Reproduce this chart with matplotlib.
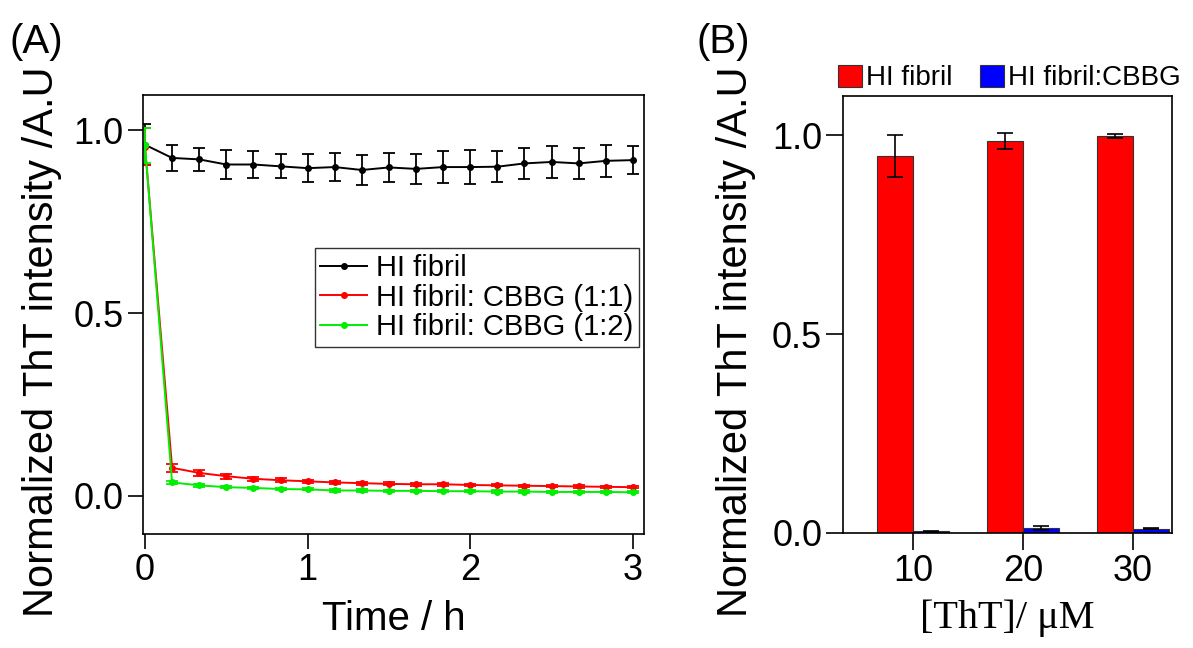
import matplotlib
matplotlib.use("Agg")
import matplotlib.pyplot as plt
import numpy as np

plt.rcParams['font.family'] = ['Liberation Sans', 'DejaVu Sans']

# ---- panel A data: ThT intensity vs time ----
time_h = np.arange(19) / 6.0
hi_fibril = [0.96, 0.924, 0.920, 0.906, 0.906, 0.901, 0.896, 0.899, 0.891, 0.898,
             0.894, 0.899, 0.899, 0.900, 0.909, 0.913, 0.909, 0.916, 0.918]
hi_fibril_err = [0.056, 0.035, 0.031, 0.040, 0.036, 0.033, 0.038, 0.038, 0.042, 0.040,
                 0.040, 0.043, 0.047, 0.042, 0.043, 0.043, 0.043, 0.043, 0.038]
cbbg_11 = [0.955, 0.077, 0.063, 0.054, 0.047, 0.043, 0.040, 0.037, 0.035, 0.033,
           0.032, 0.032, 0.030, 0.029, 0.028, 0.027, 0.026, 0.025, 0.024]
cbbg_11_err = [0.05, 0.011, 0.008, 0.007, 0.006, 0.005, 0.005, 0.004, 0.004, 0.004,
               0.004, 0.004, 0.003, 0.003, 0.003, 0.003, 0.003, 0.003, 0.003]
cbbg_12 = [0.958, 0.037, 0.029, 0.024, 0.022, 0.019, 0.018, 0.015, 0.015, 0.014,
           0.014, 0.013, 0.013, 0.012, 0.012, 0.011, 0.011, 0.011, 0.010]
cbbg_12_err = [0.048, 0.005, 0.004, 0.003, 0.003, 0.003, 0.003, 0.003, 0.003, 0.003,
               0.003, 0.003, 0.003, 0.003, 0.003, 0.003, 0.003, 0.003, 0.003]

# ---- panel B data: bars vs ThT concentration ----
tht_labels = ['10', '20', '30']
bar_fibril = [0.948, 0.986, 0.999]
bar_fibril_err = [0.052, 0.020, 0.005]
bar_cbbg = [0.004, 0.013, 0.011]
bar_cbbg_err = [0.002, 0.005, 0.001]

fig = plt.figure(figsize=(11.93, 6.48), dpi=100)

tick_fs = 26
label_fs = 30

# ================= panel A =================
ax1 = fig.add_axes([0.1199, 0.1759, 0.4199, 0.6775])
series = [
    (hi_fibril, hi_fibril_err, 'black', 'HI fibril'),
    (cbbg_11, cbbg_11_err, '#ff0000', 'HI fibril: CBBG (1:1)'),
    (cbbg_12, cbbg_12_err, '#00ee00', 'HI fibril: CBBG (1:2)'),
]
for vals, errs, col, lab in series:
    ax1.errorbar(time_h, vals, yerr=errs, color=col, fmt='none',
                 elinewidth=1.3, capsize=4, capthick=1.3)
    ax1.plot(time_h, vals, color=col, marker='o', markersize=4,
             linewidth=1.4, label=lab)

ax1.set_xlim(-0.012, 3.068)
ax1.set_ylim(-0.104, 1.096)
ax1.set_xticks([0, 1, 2, 3])
ax1.set_xticklabels(['0', '1', '2', '3'])
ax1.set_yticks([0.0, 0.5, 1.0])
ax1.set_yticklabels(['0.0', '0.5', '1.0'])
ax1.tick_params(direction='out', length=11, width=1.2, labelsize=tick_fs, pad=3)
for sp in ax1.spines.values():
    sp.set_linewidth(1.2)
ax1.set_xlabel('Time / h', fontsize=label_fs - 1, labelpad=8)
ax1.set_ylabel('Normalized ThT intensity /A.U', fontsize=label_fs)
ax1.yaxis.set_label_coords(-0.162, 0.437)

leg1 = ax1.legend(loc='lower right', bbox_to_anchor=(0.99, 0.426), borderaxespad=0,
                  fontsize=21, frameon=True, fancybox=False, edgecolor='black',
                  handlelength=1.6, handletextpad=0.3, labelspacing=0.05,
                  borderpad=0.2)
leg1.get_frame().set_linewidth(1.0)

fig.text(0.008, 0.965, '(A)', fontsize=label_fs - 1, va='top', ha='left')

# ================= panel B =================
ax2 = fig.add_axes([0.7066, 0.1775, 0.2758, 0.6744])
xpos = np.arange(len(tht_labels))
bw = 0.327
ax2.bar(xpos - bw / 2, bar_fibril, width=bw, color='#ff0000', edgecolor='#333333',
        linewidth=0.8, yerr=bar_fibril_err, capsize=6,
        error_kw=dict(elinewidth=1.2, capthick=1.2), label='HI fibril')
ax2.bar(xpos + bw / 2, bar_cbbg, width=bw, color='#0000ff', edgecolor='#333333',
        linewidth=0.8, yerr=bar_cbbg_err, capsize=6,
        error_kw=dict(elinewidth=1.2, capthick=1.2), label='HI fibril:CBBG')

ax2.set_xlim(-0.636, 2.355)
ax2.set_ylim(0, 1.099)
ax2.set_xticks(xpos)
ax2.set_xticklabels(tht_labels)
ax2.set_yticks([0.0, 0.5, 1.0])
ax2.set_yticklabels(['0.0', '0.5', '1.0'])
ax2.tick_params(direction='out', length=12, width=1.2, labelsize=tick_fs, pad=3)
for sp in ax2.spines.values():
    sp.set_linewidth(1.2)
ax2.set_xlabel('[ThT]/ \u03bcM', fontsize=label_fs - 1, labelpad=8,
               family=['Liberation Serif', 'DejaVu Serif'])
ax2.set_ylabel('Normalized ThT intensity /A.U', fontsize=label_fs)
ax2.yaxis.set_label_coords(-0.265, 0.437)

ax2.legend(loc='lower left', bbox_to_anchor=(-0.048, 0.985), borderaxespad=0,
           ncol=2, fontsize=20, frameon=False, handlelength=0.85, handleheight=0.85,
           handletextpad=0.15, columnspacing=1.0)

fig.text(0.584, 0.965, '(B)', fontsize=label_fs - 1, va='top', ha='left')

fig.savefig('out.png', dpi=100)
